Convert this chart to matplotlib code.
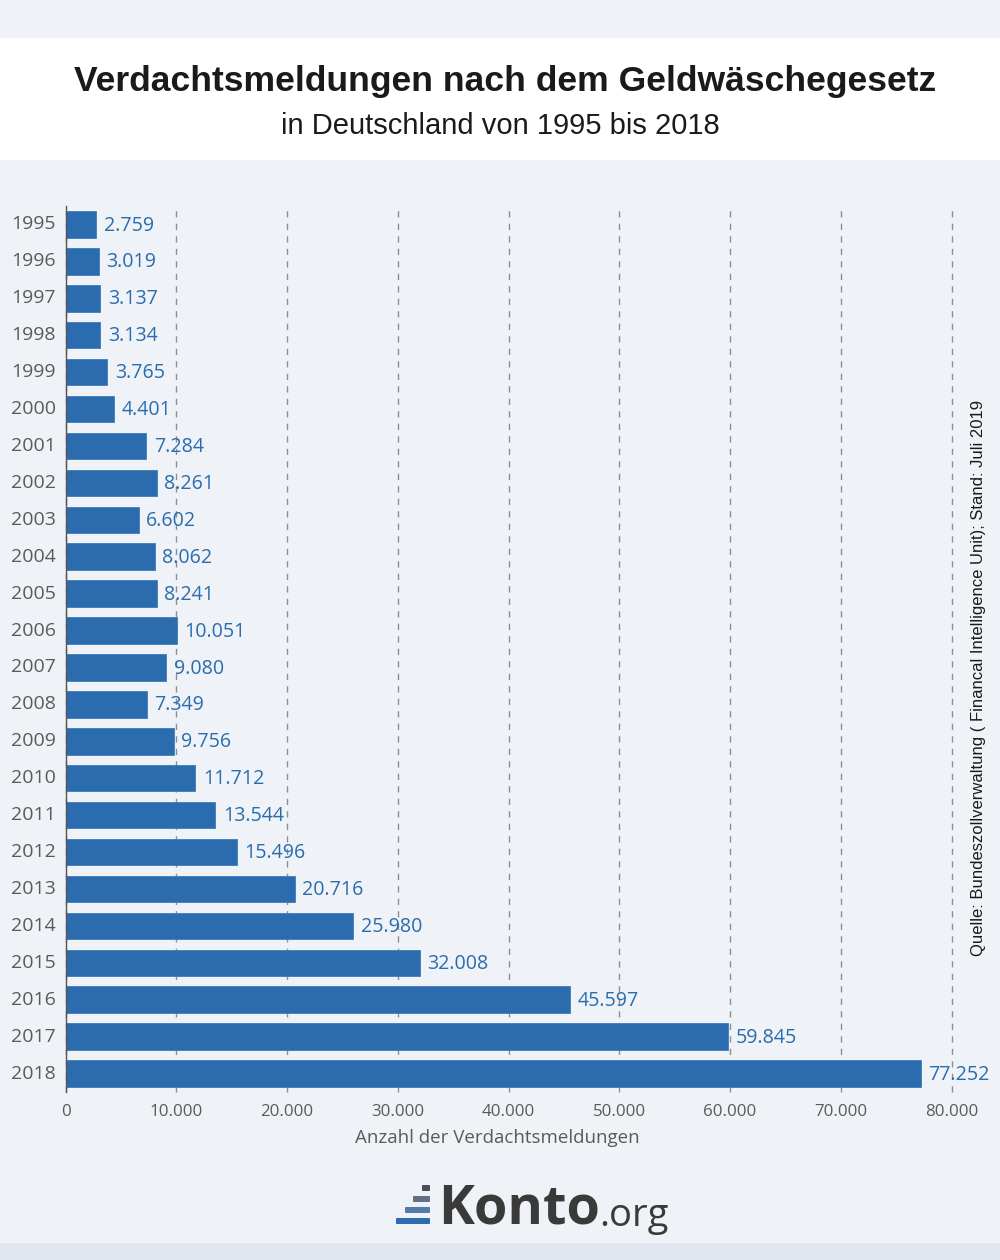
import matplotlib
matplotlib.use("Agg")
import matplotlib.pyplot as plt
from matplotlib.patches import Rectangle, FancyBboxPatch
from matplotlib.ticker import FuncFormatter

years = list(range(1995, 2019))
values = [2759, 3019, 3137, 3134, 3765, 4401, 7284, 8261, 6602, 8062, 8241, 10051,
          9080, 7349, 9756, 11712, 13544, 15496, 20716, 25980, 32008, 45597, 59845, 77252]
x_ticks = list(range(0, 80001, 10000))
title = "Verdachtsmeldungen nach dem Geldwäschegesetz"
subtitle = "in Deutschland von 1995 bis 2018"
x_label = "Anzahl der Verdachtsmeldungen"
source = "Quelle: Bundeszollverwaltung ( Financal Intelligence Unit); Stand: Juli 2019"

BG = "#eff3f7"
BLUE = "#2b6cae"
W, H = 1000, 1260
def de(v):
    return f"{v:,}".replace(",", ".")

fig = plt.figure(figsize=(W/100, H/100), dpi=100, facecolor=BG)
bgax = fig.add_axes([0, 0, 1, 1])
bgax.set_xlim(0, W); bgax.set_ylim(H, 0); bgax.axis("off")
bgax.add_patch(Rectangle((0, 38), W, 122, fc="white", ec="none"))
bgax.add_patch(Rectangle((0, 1243), W, 17, fc="#e1e5ee", ec="none"))
bgax.text(505.5, 81, title, family="Liberation Sans", weight="bold", fontsize=25.55,
          color="#1a1a1a", ha="center", va="center")
bgax.text(500.5, 125.5, subtitle, family="Liberation Sans", fontsize=20.95,
          color="#1a1a1a", ha="center", va="center")
bgax.text(978, 678, source, family="Liberation Sans", fontsize=12.0, color="#1a1a1a",
          rotation=90, ha="center", va="center")
# logo
for (x0, x1, y0, y1, c) in [(422, 430, 1185, 1191, "#4a4f57"), (413, 430, 1196, 1202, "#626f85"),
                            (405, 430, 1207, 1213, "#557aa8"), (396, 430, 1218, 1224, "#2b6cae")]:
    bgax.add_patch(FancyBboxPatch((x0+1, y0+1), x1-x0-2, y1-y0-2, boxstyle="round,pad=1,rounding_size=1",
                                  fc=c, ec="none", mutation_aspect=1))
bgax.text(438, 1224, "Konto", family="Open Sans", weight="bold", fontsize=39, color="#3a3a3a",
          ha="left", va="baseline")
bgax.text(599, 1226, ".org", family="Open Sans", fontsize=27.5, color="#3a3a3a",
          ha="left", va="baseline")

left, right = 65.5, 951.5
top, bottom = 206, 1092
ax = fig.add_axes([left/W, 1-bottom/H, (right-left)/W, (bottom-top)/H], facecolor="none")
ax.set_xlim(0, 80000)
ax.set_ylim(len(years)-0.5, -0.5)
ax.barh(range(len(years)), values, height=0.72, color=BLUE, edgecolor="#3f7cb8", linewidth=0.6, zorder=2)
ax.set_xticks(x_ticks)
ax.xaxis.set_major_formatter(FuncFormatter(lambda v, _: de(int(v))))
ax.set_yticks(range(len(years)))
ax.set_yticklabels(years)
ax.grid(axis="x", color="#8a8f94", linestyle=(0, (4.5, 4.5)), linewidth=1.0, zorder=1, clip_on=False)
ax.set_axisbelow(True)
for s in ["top", "right", "bottom"]:
    ax.spines[s].set_visible(False)
ax.spines["left"].set_color("#555555")
ax.spines["left"].set_linewidth(1)
ax.tick_params(axis="y", length=0, pad=6.8, labelsize=14.0, labelcolor="#5a5a5a")
ax.tick_params(axis="x", length=0, pad=9, labelsize=12.2, labelcolor="#5a5a5a")
for l in ax.get_xticklabels() + ax.get_yticklabels():
    l.set_family("Open Sans")
for l in ax.get_yticklabels():
    l.set_verticalalignment("center")
    l.set_y(l.get_position()[1])
bgax.text(497, 1138, x_label, family="Open Sans", fontsize=13.5, color="#5a5a5a", ha="center", va="center")
for i, v in enumerate(values):
    ax.annotate(de(v), (v, i), xytext=(5.4, -0.8), textcoords="offset points", family="Open Sans",
                fontsize=14.1, color=BLUE, ha="left", va="center", zorder=3)
fig.savefig("out.png", dpi=100, facecolor=BG)
